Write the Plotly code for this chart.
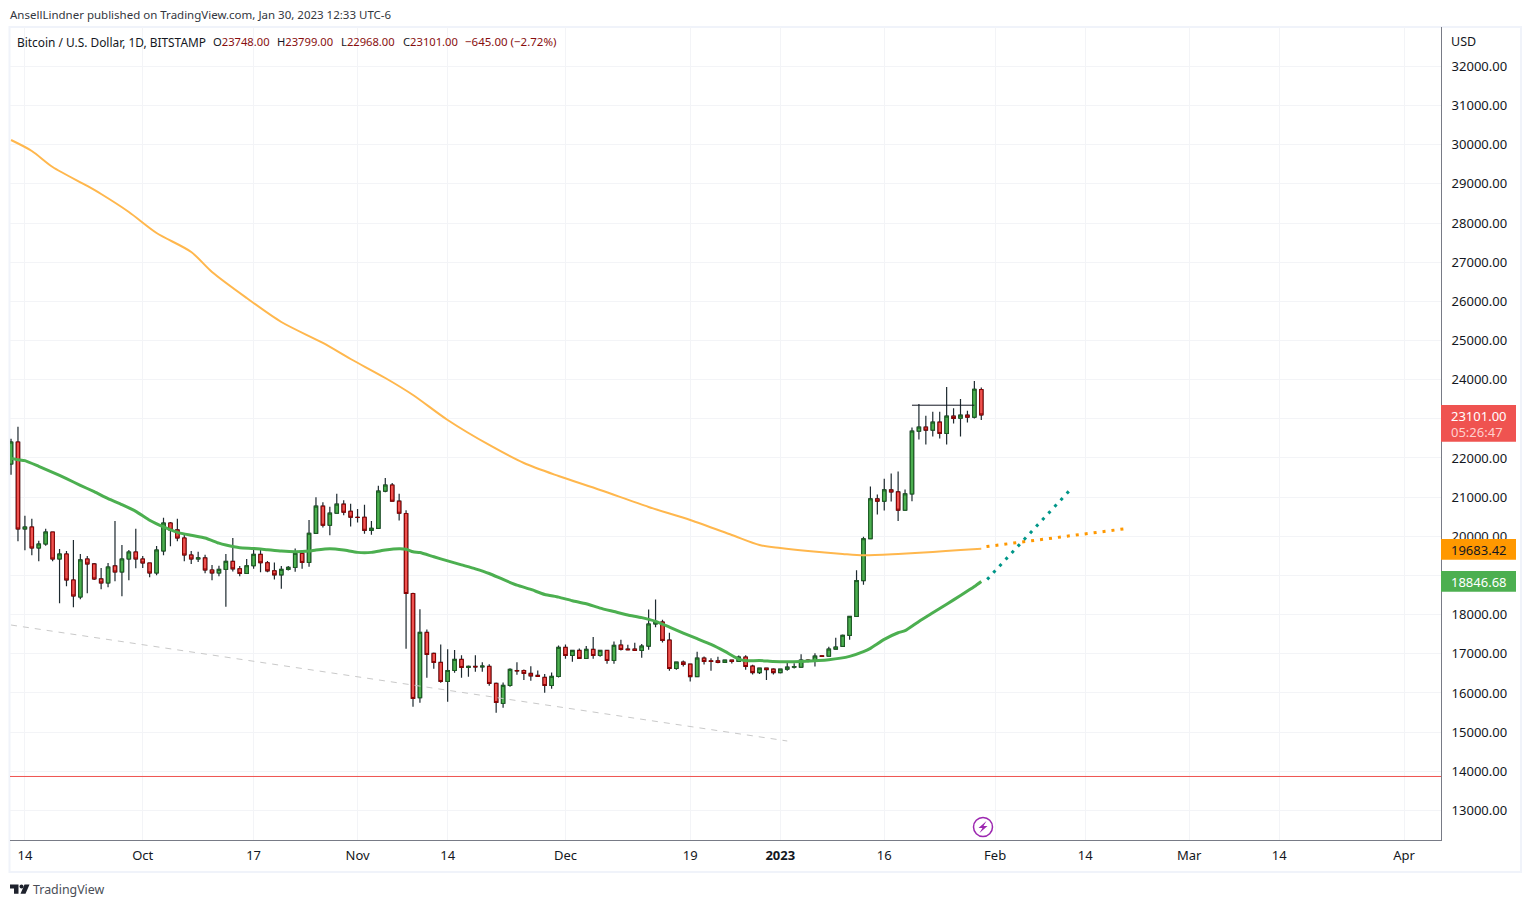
import plotly.graph_objects as go
import pandas as pd

dates = pd.date_range("2022-09-12", "2023-01-30", freq="D").strftime("%Y-%m-%d").tolist()

opens = [21847,22408,20187,20238,19702,19804,20110,19421,19549,18885,18450,19421,19294,18911,18809,19243,19089,19421,19600,
 19421,19319,19064,19626,20340,20162,19957,19523,19421,19447,19140,19064,19154,19359,19171,19051,19248,19538,19325,19120,19017,19154,19205,19564,19333,20077,20769,20282,20590,20820,20640,
 20487,20487,20154,20205,21154,21308,20897,20583,18540,15877,17545,17009,16779,16294,16574,16855,16651,16677,16668,16677,16243,15732,16191,16574,16574,16498,16447,16396,16191,16421,
 17162,16957,17085,16881,17111,16957,17085,16830,17222,17120,17120,17085,17197,17761,17812,17350,16624,16786,16735,16419,16889,16820,16820,16778,16838,16803,16915,16684,16521,16632,16607,
 16521,16607,16658,16658,16838,16803,16950,16940,17120,17190,17470,17953,18870,19938,20956,20897,21185,21134,20668,21083,22686,22788,22712,22915,22627,23068,23017,23093,23042,23748]
closes = [22408,20187,20238,19702,19804,20110,19421,19549,18885,18477,19396,19294,18911,18809,19217,19089,19421,19600,19421,
 19319,19064,19651,20340,20162,19957,19523,19421,19447,19140,19064,19154,19359,19171,19051,19248,19538,19325,19120,19017,19154,19205,19564,19333,20077,20769,20282,20590,20820,20615,20487,
 20480,20154,20205,21154,21308,20897,20590,18540,15860,17545,16983,16779,16294,16574,16855,16651,16677,16668,16685,16243,15757,16191,16600,16566,16498,16438,16421,16191,16421,17162,
 16957,17085,16881,17111,16957,17085,16830,17213,17111,17103,17085,17197,17761,17812,17342,16624,16786,16726,16419,16889,16803,16803,16778,16838,16803,16915,16675,16521,16632,16598,16521,
 16607,16658,16675,16838,16803,16940,16932,17120,17171,17470,17953,18870,19938,20956,20897,21185,21134,20668,21083,22686,22788,22712,22915,22627,23068,23008,23093,23042,23755,23101]
highs = [22494,22800,20528,20451,19889,20196,20110,19677,19626,19906,19550,19498,19319,19192,19319,20391,19779,19651,20196,
 19498,19319,19753,20477,20366,20451,20060,19625,19609,19532,19268,19251,19547,19957,19239,19419,19675,19692,19368,19333,19239,19239,19692,19590,20419,21000,20872,20752,21085,20923,20829,
 20700,20803,20393,21290,21487,21359,21085,20668,18557,18140,17621,17034,17238,17119,17094,16966,16702,16966,16787,16736,16268,16268,16634,16787,16600,16685,16574,16481,16523,17213,
 17238,17085,17136,17196,17426,17085,17085,17315,17359,17231,17282,17248,18128,18385,17872,17538,16786,16829,16735,17051,16932,16889,16923,16838,16838,16957,16966,16718,16632,16632,16632,
 16607,16803,16761,16991,16863,17017,16957,17180,17410,17495,17953,19132,19989,21270,21066,21473,21601,21652,21193,22780,23382,23076,23178,23178,23814,23271,23509,23204,23967,23799]
lows = [21574,19873,19643,19515,19362,19762,19362,18290,18724,18187,18392,18545,18885,18647,18698,18851,18470,18877,19183,
 19192,18953,19004,19515,19745,19872,19362,19294,19345,19055,18877,18979,18200,19103,18983,19051,19171,19085,19085,18897,18658,19128,19094,19171,19222,20068,20222,20026,20590,20538,20248,
 20350,20068,20043,20205,21128,20897,20402,17128,15647,15749,16387,16617,16260,15774,16515,16387,16413,16540,16540,16183,15494,15621,16157,16464,16328,16311,16413,16004,16106,16396,
 16872,16796,16872,16881,16872,16923,16745,16745,17085,17094,17085,16897,17103,17675,17291,16564,16590,16675,16291,16419,16726,16564,16761,16778,16752,16803,16590,16470,16487,16333,16470,
 16496,16564,16624,16650,16786,16675,16923,16940,17111,17190,17360,17953,18760,19938,20557,20659,20888,20388,20668,20897,22474,22347,22550,22500,22347,22881,22550,22907,23008,22968]

green_dates = ["2022-09-12","2022-09-13","2022-09-14","2022-09-16","2022-09-18","2022-09-20","2022-09-22","2022-09-24","2022-09-26","2022-09-28","2022-09-30",
 "2022-10-02","2022-10-04","2022-10-06","2022-10-08","2022-10-10","2022-10-12","2022-10-13","2022-10-15","2022-10-17","2022-10-19","2022-10-21","2022-10-23","2022-10-25","2022-10-26","2022-10-28","2022-10-30",
 "2022-11-01","2022-11-03","2022-11-05","2022-11-07","2022-11-08","2022-11-09","2022-11-10","2022-11-12","2022-11-14","2022-11-16","2022-11-18","2022-11-20","2022-11-22","2022-11-24","2022-11-26","2022-11-28","2022-11-30",
 "2022-12-02","2022-12-04","2022-12-06","2022-12-08","2022-12-10","2022-12-12","2022-12-14","2022-12-16","2022-12-18","2022-12-20","2022-12-22","2022-12-24","2022-12-26","2022-12-27","2022-12-29","2022-12-31",
 "2023-01-02","2023-01-04","2023-01-08","2023-01-11","2023-01-13","2023-01-14","2023-01-16","2023-01-18","2023-01-19","2023-01-21","2023-01-23","2023-01-25","2023-01-27","2023-01-29","2023-01-30"]
green_values = [21990,21957,21932,21787,21634,21472,21302,21140,20962,20809,20638,
 20409,20238,20102,20026,19957,19825,19778,19709,19692,19658,19624,19607,19624,19650,19684,19650,
 19590,19590,19650,19684,19672,19604,19587,19477,19374,19272,19170,19051,18898,18753,18643,18515,18447,
 18353,18277,18166,18079,17991,17923,17829,17684,17530,17385,17239,17060,16863,16821,16829,16803,
 16795,16805,16850,16935,17054,17139,17368,17538,17589,17826,18047,18267,18488,18717,18847]

orange_dates = ["2022-09-12","2022-09-15","2022-09-18","2022-09-23","2022-09-25","2022-09-29","2022-10-03","2022-10-08","2022-10-11","2022-10-16","2022-10-21","2022-10-27","2022-10-31",
 "2022-11-05","2022-11-09","2022-11-14","2022-11-20","2022-11-25","2022-11-30","2022-12-06","2022-12-13","2022-12-19","2022-12-25","2022-12-29",
 "2023-01-01","2023-01-05","2023-01-10","2023-01-13","2023-01-18","2023-01-23","2023-01-27","2023-01-30"]
orange_values = [30120,29840,29431,28946,28741,28282,27746,27260,26750,26086,25473,24937,24528,
 24043,23609,22970,22332,21872,21540,21183,20749,20417,20034,19778,
 19702,19625,19549,19515,19549,19600,19651,19683]

proj_orange_dates = ["2023-01-30 18:00","2023-02-19 18:00"]
proj_orange_values = [19739,20193]
proj_teal_dates = ["2023-01-30 20:30","2023-02-11 15:30"]
proj_teal_values = [18900,21152]
trend_dates = ["2022-09-12","2023-01-02"]
trend_values = [17735,14773]
support_dates = ["2022-09-11","2023-04-07"]
support_values = [13867,13867]
level_dates = ["2023-01-20","2023-01-29"]
level_values = [23348,23348]

x_tick_dates = ["2022-09-14","2022-10-01","2022-10-17","2022-11-01","2022-11-14","2022-12-01","2022-12-19","2023-01-01","2023-01-16","2023-02-01","2023-02-14","2023-03-01","2023-03-14","2023-04-01"]
x_tick_text = ["14","Oct","17","Nov","14","Dec","19","<b>2023</b>","16","Feb","14","Mar","14","Apr"]
y_ticks = list(range(13000, 33000, 1000))

FONT = "Noto Sans"
W, H = 1531, 907
L, R, T, B = 10, 1441, 27, 840
PX = lambda v: (v - L) / (R - L)
PY = lambda v: (B - v) / (B - T)

WICK = "#1e2a30"
body_hi = [max(a, b) for a, b in zip(opens, closes)]
body_lo = [min(a, b) for a, b in zip(opens, closes)]

fig = go.Figure()
fig.add_trace(go.Scatter(x=support_dates, y=support_values, mode="lines", line=dict(color="#ef5350", width=1), hoverinfo="skip"))
fig.add_trace(go.Scatter(x=trend_dates, y=trend_values, mode="lines", line=dict(color="#c9c9c9", width=1, dash="6px,6px"), hoverinfo="skip"))
fig.add_trace(go.Candlestick(x=dates, open=opens, high=highs, low=lows, close=closes, whiskerwidth=0,
    increasing=dict(line=dict(color=WICK, width=1.2), fillcolor="#4caf50"),
    decreasing=dict(line=dict(color=WICK, width=1.2), fillcolor="#ef5350"), hoverinfo="skip"))
fig.add_trace(go.Candlestick(x=dates, open=opens, high=body_hi, low=body_lo, close=closes, whiskerwidth=0,
    increasing=dict(line=dict(color="#1b5e20", width=1), fillcolor="#4caf50"),
    decreasing=dict(line=dict(color="#8b0000", width=1), fillcolor="#ef5350"), hoverinfo="skip"))
fig.add_trace(go.Scatter(x=level_dates, y=level_values, mode="lines", line=dict(color="#131722", width=1), hoverinfo="skip"))
fig.add_trace(go.Scatter(x=orange_dates, y=orange_values, mode="lines", line=dict(color="#ffb74d", width=2, shape="spline", smoothing=0.8), hoverinfo="skip"))
fig.add_trace(go.Scatter(x=green_dates, y=green_values, mode="lines", line=dict(color="#4caf50", width=3, shape="spline", smoothing=0.5), hoverinfo="skip"))
fig.add_trace(go.Scatter(x=proj_orange_dates, y=proj_orange_values, mode="lines", line=dict(color="#ff9800", width=3, dash="3px,6px"), hoverinfo="skip"))
fig.add_trace(go.Scatter(x=proj_teal_dates, y=proj_teal_values, mode="lines", line=dict(color="#009688", width=3, dash="3px,6px"), hoverinfo="skip"))

shapes = []
def paper_rect(x0, y0, x1, y1, **kw):
    shapes.append(dict(type="rect", xref="paper", yref="paper", x0=PX(x0), x1=PX(x1), y0=PY(y0), y1=PY(y1), **kw))

BORDER = "#f0f3fa"
paper_rect(L - 0.5, T, 1521, 872, line=dict(color=BORDER, width=2), fillcolor="rgba(0,0,0,0)", layer="below")
paper_rect(R, 405, 1516, 441.7, line=dict(width=0), fillcolor="#ef5350", layer="above")
paper_rect(R, 539, 1516, 559.7, line=dict(width=0), fillcolor="#ff9800", layer="above")
paper_rect(R, 571, 1516, 591.7, line=dict(width=0), fillcolor="#4caf50", layer="above")

def poly(points, fill):
    d = "M " + " L ".join(f"{PX(a):.5f},{PY(b):.5f}" for a, b in points) + " Z"
    shapes.append(dict(type="path", xref="paper", yref="paper", path=d, fillcolor=fill, line=dict(width=0), layer="above"))

# event marker
shapes.append(dict(type="circle", xref="paper", yref="paper", x0=PX(973.5), x1=PX(992.5), y0=PY(817.5), y1=PY(836.5),
                   line=dict(color="#9c27b0", width=1.5), fillcolor="#ffffff", layer="above"))
poly([(986.5,821),(978.5,828),(982.5,828),(979.5,833),(987.5,826),(983.5,826)], "#9c27b0")
# TradingView logo
poly([(10,884.5),(18.5,884.5),(18.5,893.7),(14,893.7),(14,888.5),(10,888.5)], "#1e222d")
poly([(29.5,884.5),(25.5,893.7),(20.5,893.7),(24.5,884.5)], "#1e222d")
shapes.append(dict(type="circle", xref="paper", yref="paper", x0=PX(19.5), x1=PX(23.5), y0=PY(884.5), y1=PY(888.5),
                   line=dict(width=0), fillcolor="#1e222d", layer="above"))

annotations = []
def label(px, py, text, color="#131722", size=12, anchor="left"):
    annotations.append(dict(xref="paper", yref="paper", x=PX(px), y=PY(py), text=text, showarrow=False, xanchor=anchor, yanchor="middle",
                            font=dict(family=FONT, size=size, color=color), borderpad=0, borderwidth=0))

DR = "#880e0e"
label(10, 15, "AnsellLindner published on TradingView.com, Jan 30, 2023 12:33 UTC-6", "#333740", 11.5)
label(17, 42, "Bitcoin / U.S. Dollar, 1D, BITSTAMP", "#131722", 11.9)
label(213, 42, f'O<span style="color:{DR}">23748.00</span>', "#131722", 11.2)
label(277, 42, f'H<span style="color:{DR}">23799.00</span>', "#131722", 11.2)
label(340.5, 42, f'L<span style="color:{DR}">22968.00</span>', "#131722", 11.2)
label(402.5, 42, f'C<span style="color:{DR}">23101.00</span>', "#131722", 11.2)
label(465, 42, "\u2212645.00 (\u22122.72%)", DR, 11.5)
label(1451, 42, "USD", "#131722", 12.5)
label(1451, 416, "23101.00", "#ffffff", 13)
label(1451, 432, "05:26:47", "#ffd0ce", 13)
label(1451, 550, "19683.42", "#131722", 13)
label(1451, 582, "18846.68", "#ffffff", 13)
label(33, 889, "TradingView", "#4a4e57", 12.4)

GRID = "#f3f4f7"
fig.update_layout(
    width=W, height=H, margin=dict(l=L, r=W - R, t=T, b=H - B, autoexpand=False),
    paper_bgcolor="#ffffff", plot_bgcolor="#ffffff", showlegend=False, boxmode="overlay", boxgap=0.3,
    font=dict(family=FONT, size=13, color="#131722"), shapes=shapes, annotations=annotations, hovermode=False,
    xaxis=dict(type="date", range=["2022-09-11 20:24", "2023-04-06 08:00"], rangeslider=dict(visible=False),
               tickmode="array", tickvals=x_tick_dates, ticktext=x_tick_text, ticks="", showgrid=True, gridcolor=GRID, gridwidth=1,
               showline=True, linecolor="#787b86", linewidth=1, zeroline=False, ticklabelstandoff=3, tickfont=dict(size=13, family=FONT, color="#131722")),
    yaxis=dict(side="right", range=[12245, 33006], tickmode="array", tickvals=y_ticks, tickformat=".2f", ticks="", showgrid=True, gridcolor=GRID, gridwidth=1,
               showline=True, linecolor="#787b86", linewidth=1, zeroline=False, ticklabelstandoff=7, tickfont=dict(size=13, family=FONT, color="#131722")),
)

fig.write_html("out.html", config=dict(displayModeBar=False, responsive=False),
               post_script="document.body.style.margin='0';document.body.style.overflow='hidden';")
